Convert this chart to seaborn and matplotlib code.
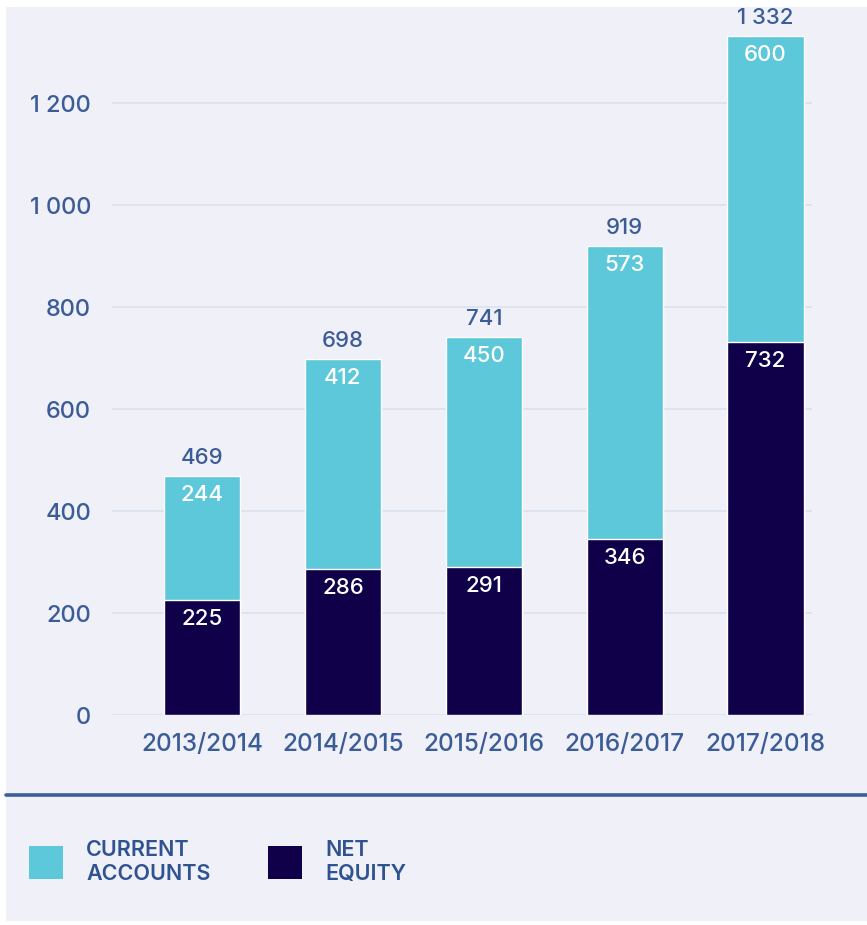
import matplotlib
matplotlib.use("Agg")
import matplotlib.pyplot as plt
from matplotlib.patches import Rectangle
from matplotlib.lines import Line2D
import seaborn as sns
import pandas as pd

# données
seasons = ["2013/2014", "2014/2015", "2015/2016", "2016/2017", "2017/2018"]
net_equity = [225, 286, 291, 346, 732]
current_accounts = [244, 412, 450, 573, 600]
y_ticks = [0, 200, 400, 600, 800, 1000, 1200]

totals = [a + b for a, b in zip(net_equity, current_accounts)]
df = pd.DataFrame({"season": seasons, "equity": net_equity,
                   "current": current_accounts, "total": totals})

CYAN = "#5ec8db"
NAVY = "#10004a"
TXT = "#3b5c97"
BG = "#eff0f8"


def fmt(v):
    return f"{v:,}".replace(",", " ")


sns.set_theme(style="white")
plt.rcParams["font.family"] = ["Inter", "DejaVu Sans"]

W, H = 867, 925
fig = plt.figure(figsize=(W / 100, H / 100), dpi=100)
fig.patch.set_facecolor("white")
fig.add_artist(Rectangle((6 / W, 0.004), 1, 1 - 7 / H - 0.004, transform=fig.transFigure,
                         facecolor=BG, edgecolor="none", zorder=0))

ax = fig.add_axes([112 / W, 210 / H, 700 / W, 707 / H])
ax.set_facecolor("none")

# barres empilées : total (cyan) puis fonds propres (navy) par-dessus
sns.barplot(data=df, x="season", y="total", color=CYAN, width=0.54,
            edgecolor="white", linewidth=1, saturation=1, ax=ax)
sns.barplot(data=df, x="season", y="equity", color=NAVY, width=0.54,
            edgecolor="white", linewidth=1, saturation=1, ax=ax)

ax.set_ylim(0, 707 / 0.51)
ax.set_xlim(-0.64, 4.33)
ax.set_yticks(y_ticks)
ax.set_yticklabels([fmt(v) for v in y_ticks])
ax.grid(axis="y", color="#dde3ef", linewidth=1.3)
ax.set_axisbelow(True)
for s in ax.spines.values():
    s.set_visible(False)
ax.tick_params(axis="both", length=0, colors=TXT)
ax.tick_params(axis="y", pad=15, labelsize=17)
ax.tick_params(axis="x", pad=13, labelsize=17.5)
ax.set_xlabel("")
ax.set_ylabel("")
for lab in ax.get_xticklabels() + ax.get_yticklabels():
    lab.set_color(TXT)
    lab.set_fontweight("medium")

for i in range(len(seasons)):
    ax.annotate(fmt(net_equity[i]), (i, net_equity[i]), xytext=(0, -19),
                textcoords="offset pixels", ha="center", va="center",
                color="white", fontsize=16, fontweight="medium")
    ax.annotate(fmt(current_accounts[i]), (i, totals[i]), xytext=(0, -19),
                textcoords="offset pixels", ha="center", va="center",
                color="white", fontsize=16, fontweight="medium")
    ax.annotate(fmt(totals[i]), (i, totals[i]), xytext=(0, 18),
                textcoords="offset pixels", ha="center", va="center",
                color=TXT, fontsize=16, fontweight="medium")

# séparateur et légende
fig.add_artist(Line2D([6 / W, 1], [1 - 795 / H] * 2, transform=fig.transFigure,
                      color="#3d5f99", linewidth=2.6))
for x0, col, txt in [(29, CYAN, "CURRENT\nACCOUNTS"), (268, NAVY, "NET\nEQUITY")]:
    fig.add_artist(Rectangle((x0 / W, 1 - 879 / H), 34 / W, 33 / H,
                             transform=fig.transFigure, facecolor=col,
                             edgecolor="none"))
    fig.text((x0 + 57) / W, 1 - 862 / H, txt, ha="left", va="center",
             color="#2f5290", fontsize=15.5, fontweight="semibold",
             linespacing=1.25)

fig.savefig("out.png", dpi=100, facecolor=fig.get_facecolor())
